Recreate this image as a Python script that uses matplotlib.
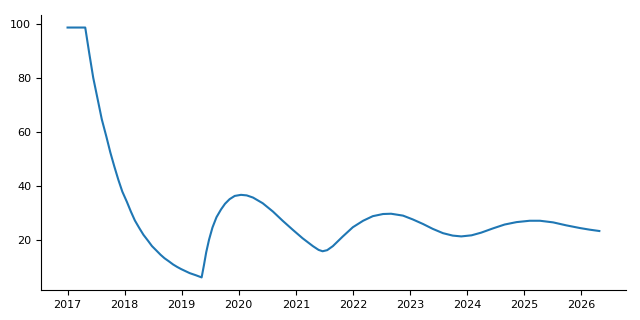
import matplotlib
matplotlib.use("Agg")
import matplotlib.pyplot as plt

years = [2017.00, 2017.31, 2017.38, 2017.45, 2017.53, 2017.60, 2017.68, 2017.75,
         2017.82, 2017.89, 2017.96, 2018.04, 2018.11, 2018.18, 2018.26, 2018.33,
         2018.41, 2018.48, 2018.56, 2018.63, 2018.70, 2018.78, 2018.85, 2018.92,
         2018.99, 2019.07, 2019.14, 2019.25, 2019.35, 2019.39, 2019.43, 2019.48,
         2019.54, 2019.61, 2019.69, 2019.76, 2019.84, 2019.93, 2020.04, 2020.14,
         2020.25, 2020.42, 2020.60, 2020.77, 2020.95, 2021.12, 2021.30, 2021.40,
         2021.47, 2021.55, 2021.65, 2021.82, 2022.00, 2022.18, 2022.35, 2022.53,
         2022.67, 2022.88, 2023.05, 2023.23, 2023.40, 2023.58, 2023.75, 2023.90,
         2024.08, 2024.25, 2024.46, 2024.66, 2024.87, 2025.10, 2025.28, 2025.51,
         2025.74, 2025.98, 2026.15, 2026.32]
values = [98.6, 98.6, 89.1, 80.0, 71.8, 64.6, 58.2, 52.3,
          47.1, 42.2, 37.8, 34.0, 30.4, 27.1, 24.2, 21.8,
          19.6, 17.6, 15.9, 14.4, 13.1, 11.9, 10.8, 9.9,
          9.1, 8.3, 7.6, 6.8, 6.0, 10.5, 15.3, 20.0,
          24.5, 28.3, 31.2, 33.3, 35.0, 36.2, 36.6, 36.4,
          35.6, 33.5, 30.4, 27.0, 23.6, 20.5, 17.6, 16.2,
          15.7, 16.1, 17.6, 21.1, 24.6, 27.0, 28.7, 29.5,
          29.6, 28.9, 27.5, 25.8, 24.0, 22.4, 21.5, 21.2,
          21.6, 22.6, 24.2, 25.6, 26.5, 27.0, 27.0, 26.4,
          25.3, 24.3, 23.7, 23.2]
xticks = [2017, 2018, 2019, 2020, 2021, 2022, 2023, 2024, 2025, 2026]

fig, ax = plt.subplots(figsize=(6.4, 3.2), dpi=100)
ax.plot(years, values, color="#1f77b4", linewidth=1.5)
ax.set_xticks(xticks)
ax.set_xticklabels([str(t) for t in xticks])
ax.set_yticks([20, 40, 60, 80, 100])
ax.tick_params(labelsize=8)
ax.spines["top"].set_visible(False)
ax.spines["right"].set_visible(False)
fig.subplots_adjust(left=0.064, right=0.978, bottom=0.094, top=0.953)
fig.savefig("out.png", dpi=100)
